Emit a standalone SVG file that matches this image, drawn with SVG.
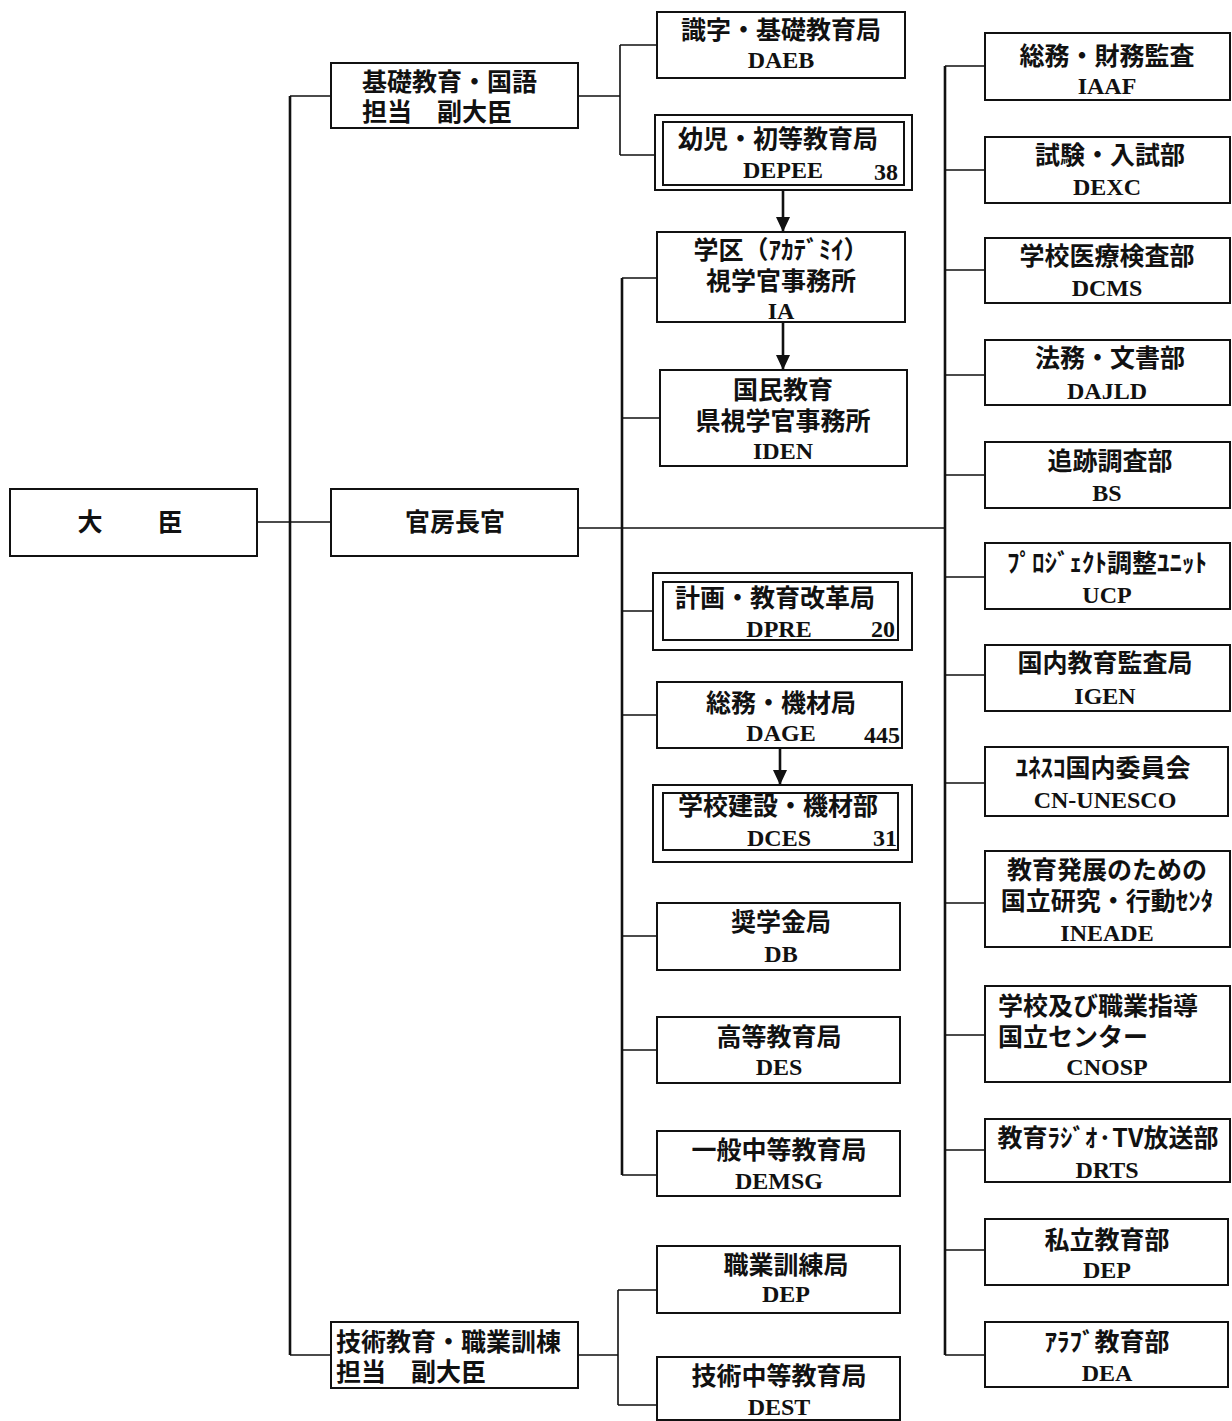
<svg xmlns="http://www.w3.org/2000/svg" width="1232" height="1421" viewBox="0 0 1232 1421">
<style>
.b{fill:#fff;stroke:#111;stroke-width:2}
.c{fill:none;stroke:#111;stroke-width:1.6}
.t{stroke:#111;stroke-width:2.6;fill:none}
.j{font-family:"Noto Sans CJK JP","Noto Sans",sans-serif;font-size:25px;font-weight:bold;fill:#111;text-anchor:middle}
.l{font-family:"Liberation Serif",serif;font-size:24px;font-weight:bold;fill:#111;text-anchor:middle}
.s{text-anchor:start}
</style>
<defs>
<marker id="ar" markerWidth="16" markerHeight="14" refX="15" refY="7" orient="auto" markerUnits="userSpaceOnUse">
<path d="M0,0 L15,7 L0,14 Z" fill="#111"/>
</marker>
</defs>
<rect width="1232" height="1421" fill="#fff"/>
<g id="connectors">
<path class="t" d="M290,96 V1355"/>
<path class="c" d="M290,96 H331 M290,1355 H331 M257,522 H331"/>
<path class="c" d="M578,96 H620 M620,45 V155 M620,45 H657 M620,155 H655"/>
<path class="c" d="M578,528 H945"/>
<path class="t" d="M622,278 V1175"/>
<path class="c" d="M622,278 H657 M622,418 H660 M622,611 H653 M622,715 H657 M622,936 H657 M622,1050 H657 M622,1175 H657"/>
<path class="c" d="M578,1355 H618 M618,1290 V1405 M618,1290 H657 M618,1405 H657"/>
<path class="t" d="M945,66 V1355"/>
<path class="c" d="M945,66 H985 M945,170 H985 M945,270 H985 M945,375 H985 M945,475 H985 M945,577 H985 M945,675 H985 M945,783 H985 M945,903 H985 M945,1035 H985 M945,1150 H985 M945,1250 H985 M945,1355 H985"/>
<path class="t" d="M783,190 V232" marker-end="url(#ar)"/>
<path class="t" d="M783,322 V370" marker-end="url(#ar)"/>
<path class="t" d="M780,748 V785" marker-end="url(#ar)"/>
</g>
<g id="minister"><rect class="b" x="10" y="489" width="247" height="67"/><text class="j" y="531"><tspan x="90">大</tspan><tspan x="170">臣</tspan></text></g>
<g id="vm-basic"><rect class="b" x="331" y="63" width="247" height="65"/><text class="j s"><tspan x="362" y="91">基礎教育・国語</tspan><tspan x="362" y="121">担当　副大臣</tspan></text></g>
<g id="cabinet"><rect class="b" x="331" y="489" width="247" height="67"/><text class="j" x="455" y="531">官房長官</text></g>
<g id="vm-tech"><rect class="b" x="331" y="1322" width="247" height="66"/><text class="j s"><tspan x="336" y="1351">技術教育・職業訓棟</tspan><tspan x="336" y="1381">担当　副大臣</tspan></text></g>
<g id="daeb"><rect class="b" x="657" y="12" width="248" height="66"/><text class="j" x="781" y="39">識字・基礎教育局</text><text class="l" x="781" y="68">DAEB</text></g>
<g id="depee"><rect class="b" x="655" y="115" width="257" height="75"/><rect class="b" x="663" y="122" width="241" height="63"/><text class="j" x="778" y="148">幼児・初等教育局</text><text class="l" x="783" y="178">DEPEE</text><text class="l" x="886" y="180">38</text></g>
<g id="ia"><rect class="b" x="657" y="232" width="248" height="90"/><text class="j"><tspan x="781" y="259">学区（ｱｶﾃﾞﾐｲ）</tspan><tspan x="781" y="290">視学官事務所</tspan></text><text class="l" x="781" y="319">IA</text></g>
<g id="iden"><rect class="b" x="660" y="370" width="247" height="96"/><text class="j"><tspan x="783" y="399">国民教育</tspan><tspan x="783" y="430">県視学官事務所</tspan></text><text class="l" x="783" y="459">IDEN</text></g>
<g id="dpre"><rect class="b" x="653" y="573" width="259" height="77"/><rect class="b" x="663" y="582" width="235" height="58"/><text class="j" x="775" y="607">計画・教育改革局</text><text class="l" x="779" y="637">DPRE</text><text class="l" x="883" y="637">20</text></g>
<g id="dage"><rect class="b" x="657" y="682" width="245" height="66"/><text class="j" x="781" y="712">総務・機材局</text><text class="l" x="781" y="741">DAGE</text><text class="l" x="882" y="743">445</text></g>
<g id="dces"><rect class="b" x="653" y="785" width="259" height="77"/><rect class="b" x="663" y="793" width="235" height="57"/><text class="j" x="778" y="815">学校建設・機材部</text><text class="l" x="779" y="846">DCES</text><text class="l" x="885" y="846">31</text></g>
<g id="db"><rect class="b" x="657" y="903" width="243" height="67"/><text class="j" x="781" y="931">奨学金局</text><text class="l" x="781" y="962">DB</text></g>
<g id="des"><rect class="b" x="657" y="1017" width="243" height="66"/><text class="j" x="779" y="1046">高等教育局</text><text class="l" x="779" y="1075">DES</text></g>
<g id="demsg"><rect class="b" x="657" y="1131" width="243" height="65"/><text class="j" x="779" y="1159">一般中等教育局</text><text class="l" x="779" y="1189">DEMSG</text></g>
<g id="dep-vt"><rect class="b" x="657" y="1246" width="243" height="67"/><text class="j" x="786" y="1274">職業訓練局</text><text class="l" x="786" y="1302">DEP</text></g>
<g id="dest"><rect class="b" x="657" y="1357" width="243" height="63"/><text class="j" x="779" y="1385">技術中等教育局</text><text class="l" x="779" y="1415">DEST</text></g>
<g id="iaaf"><rect class="b" x="985" y="33" width="245" height="67"/><text class="j" x="1107" y="65">総務・財務監査</text><text class="l" x="1107" y="94">IAAF</text></g>
<g id="dexc"><rect class="b" x="985" y="137" width="245" height="66"/><text class="j" x="1110" y="164">試験・入試部</text><text class="l" x="1107" y="195">DEXC</text></g>
<g id="dcms"><rect class="b" x="985" y="238" width="245" height="65"/><text class="j" x="1107" y="265">学校医療検査部</text><text class="l" x="1107" y="296">DCMS</text></g>
<g id="dajld"><rect class="b" x="985" y="340" width="245" height="65"/><text class="j" x="1110" y="367">法務・文書部</text><text class="l" x="1107" y="399">DAJLD</text></g>
<g id="bs"><rect class="b" x="985" y="442" width="245" height="66"/><text class="j" x="1110" y="470">追跡調査部</text><text class="l" x="1107" y="501">BS</text></g>
<g id="ucp"><rect class="b" x="985" y="543" width="245" height="66"/><text class="j" x="1107" y="572">ﾌﾟﾛｼﾞｪｸﾄ調整ﾕﾆｯﾄ</text><text class="l" x="1107" y="603">UCP</text></g>
<g id="igen"><rect class="b" x="985" y="645" width="245" height="66"/><text class="j" x="1105" y="672">国内教育監査局</text><text class="l" x="1105" y="704">IGEN</text></g>
<g id="cn-unesco"><rect class="b" x="985" y="747" width="243" height="69"/><text class="j" x="1103" y="777">ﾕﾈｽｺ国内委員会</text><text class="l" x="1105" y="808">CN-UNESCO</text></g>
<g id="ineade"><rect class="b" x="985" y="851" width="245" height="96"/><text class="j"><tspan x="1107" y="879">教育発展のための</tspan><tspan x="1107" y="910">国立研究・行動ｾﾝﾀ</tspan></text><text class="l" x="1107" y="941">INEADE</text></g>
<g id="cnosp"><rect class="b" x="985" y="986" width="245" height="96"/><text class="j s"><tspan x="998" y="1015">学校及び職業指導</tspan><tspan x="998" y="1046">国立センター</tspan></text><text class="l" x="1107" y="1075">CNOSP</text></g>
<g id="drts"><rect class="b" x="985" y="1119" width="245" height="63"/><text class="j" x="1108" y="1147">教育ﾗｼﾞｵ·TV放送部</text><text class="l" x="1107" y="1178">DRTS</text></g>
<g id="dep-priv"><rect class="b" x="985" y="1219" width="243" height="66"/><text class="j" x="1107" y="1249">私立教育部</text><text class="l" x="1107" y="1278">DEP</text></g>
<g id="dea"><rect class="b" x="985" y="1322" width="243" height="65"/><text class="j" x="1107" y="1351">ｱﾗﾌﾞ教育部</text><text class="l" x="1107" y="1381">DEA</text></g>
</svg>
